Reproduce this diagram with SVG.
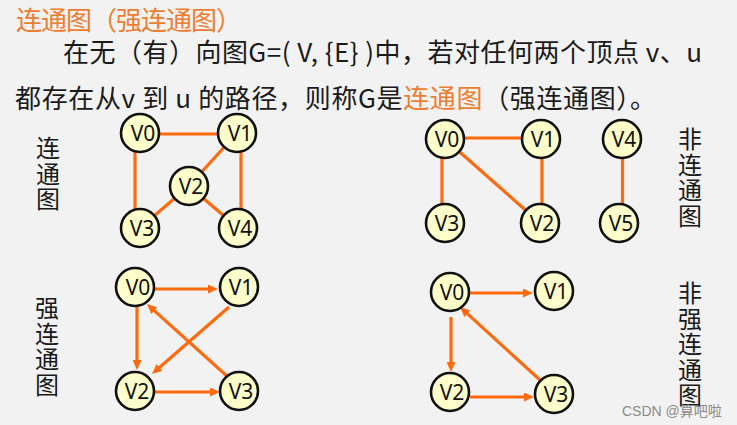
<svg xmlns="http://www.w3.org/2000/svg" width="737" height="425" viewBox="0 0 737 425">
<defs>
<style>
.t{font-family:"Noto Sans CJK SC","Noto Sans",sans-serif;font-size:26px;fill:#1a1a1a}
.o{fill:#ED7D31}
.v{font-family:"Noto Sans CJK SC","Noto Sans",sans-serif;font-size:24px;fill:#1a1a1a;writing-mode:vertical-rl;letter-spacing:1.5px}
.n circle{fill:#FFFFCC;stroke:#111;stroke-width:2.6}
.n text{font-family:"Noto Sans","DejaVu Sans",sans-serif;font-size:21px;fill:#111;text-anchor:middle}
.e line{stroke:#FF6A0F;stroke-width:3.2}
.a line{stroke:#FF6A0F;stroke-width:3.2;marker-end:url(#ah)}
.wm{font-family:"Liberation Sans","Noto Sans CJK SC",sans-serif;font-size:14px;fill:#8a8a8a}
</style>
<marker id="ah" markerUnits="userSpaceOnUse" markerWidth="11" markerHeight="9" refX="2" refY="4.5" orient="auto">
<path d="M0,0 L10,4.5 L0,9 z" fill="#FF6A0F"/>
</marker>
</defs>
<rect width="737" height="425" fill="#F2F2F2"/>

<text class="t o" x="16" y="30" textLength="226" lengthAdjust="spacing">连通图（强连通图）</text>
<text class="t" x="63" y="62" textLength="639" lengthAdjust="spacing">在无（有）向图G=( V, {E} )中，若对任何两个顶点 v、u</text>
<text class="t" x="15" y="108" textLength="641" lengthAdjust="spacing">都存在从v 到 u 的路径，则称G是<tspan class="o">连通图</tspan>（强连通图）。</text>

<text id="label-tl" class="v" x="48" y="136">连通图</text>
<text id="label-tr" class="v" x="690" y="127">非连通图</text>
<text id="label-bl" class="v" x="47" y="296">强连通图</text>
<text id="label-br" class="v" x="690" y="281">非强连通图</text>

<g id="connectors">
<g class="e">
<line x1="140" y1="134" x2="237" y2="134"/>
<line x1="135" y1="145" x2="135" y2="215"/>
<line x1="241" y1="145" x2="241" y2="215"/>
<line x1="237" y1="133" x2="189" y2="186"/>
<line x1="189" y1="186" x2="140" y2="228"/>
<line x1="189" y1="186" x2="238" y2="228"/>
<line x1="445" y1="138" x2="541" y2="138"/>
<line x1="442" y1="150" x2="442" y2="212"/>
<line x1="445" y1="139" x2="540" y2="223"/>
<line x1="542" y1="150" x2="542" y2="212"/>
<line x1="622.5" y1="150" x2="622.5" y2="212"/>
</g>
<g class="a">
<line x1="155" y1="289" x2="210" y2="289"/>
<line x1="137" y1="307" x2="137" y2="362"/>
<line x1="229" y1="307" x2="158" y2="368.8"/>
<line x1="228" y1="377" x2="152.9" y2="309.4"/>
<line x1="155" y1="392" x2="212" y2="392"/>
<line x1="470" y1="293" x2="525" y2="293"/>
<line x1="451" y1="317" x2="451" y2="364"/>
<line x1="470" y1="397" x2="526" y2="397"/>
<line x1="540" y1="380" x2="465.9" y2="312.4"/>
</g>
</g>

<g id="tl-v0" class="n"><circle cx="140" cy="133" r="19"/><text x="143" y="140.5">V0</text></g>
<g id="tl-v1" class="n"><circle cx="237" cy="133" r="19"/><text x="240" y="140.5">V1</text></g>
<g id="tl-v2" class="n"><circle cx="189" cy="186" r="19"/><text x="191" y="193.5">V2</text></g>
<g id="tl-v3" class="n"><circle cx="140" cy="228" r="19"/><text x="142" y="235.5">V3</text></g>
<g id="tl-v4" class="n"><circle cx="238" cy="228" r="19"/><text x="240" y="235.5">V4</text></g>

<g id="tr-v0" class="n"><circle cx="445" cy="139" r="19"/><text x="447" y="146.5">V0</text></g>
<g id="tr-v1" class="n"><circle cx="541" cy="139" r="19"/><text x="543" y="146.5">V1</text></g>
<g id="tr-v4" class="n"><circle cx="622" cy="139" r="19"/><text x="624" y="146.5">V4</text></g>
<g id="tr-v3" class="n"><circle cx="445" cy="223" r="19"/><text x="447" y="230.5">V3</text></g>
<g id="tr-v2" class="n"><circle cx="540" cy="223" r="19"/><text x="542" y="230.5">V2</text></g>
<g id="tr-v5" class="n"><circle cx="619" cy="223" r="19"/><text x="621" y="230.5">V5</text></g>

<g id="bl-v0" class="n"><circle cx="135" cy="287" r="19"/><text x="138" y="294.5">V0</text></g>
<g id="bl-v1" class="n"><circle cx="239" cy="287" r="19"/><text x="241" y="294.5">V1</text></g>
<g id="bl-v2" class="n"><circle cx="135" cy="391" r="19"/><text x="137" y="398.5">V2</text></g>
<g id="bl-v3" class="n"><circle cx="239" cy="391" r="19"/><text x="241" y="398.5">V3</text></g>

<g id="br-v0" class="n"><circle cx="450" cy="292" r="19"/><text x="452" y="299.5">V0</text></g>
<g id="br-v1" class="n"><circle cx="554" cy="291" r="19"/><text x="556" y="298.5">V1</text></g>
<g id="br-v2" class="n"><circle cx="450" cy="392" r="19"/><text x="452" y="399.5">V2</text></g>
<g id="br-v3" class="n"><circle cx="554" cy="394" r="19"/><text x="556" y="401.5">V3</text></g>

<text class="wm" x="622" y="416">CSDN @算吧啦</text>
</svg>
